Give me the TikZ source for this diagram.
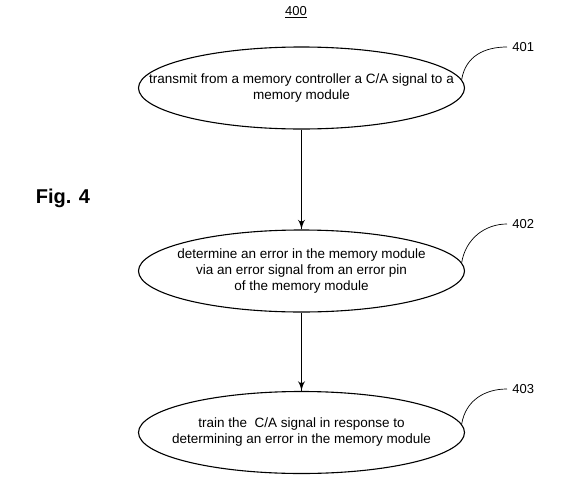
\documentclass[tikz,border=0pt]{standalone}
\usepackage{fontspec}
\setmainfont{Liberation Sans}
\usetikzlibrary{arrows}
\usetikzlibrary{decorations.markings}
\usetikzlibrary{shapes.geometric}
\tikzset{->/.style = {decoration={markings,
                                  mark=at position 1 with {\arrow[scale=2]{latex'}}},
                      postaction={decorate}}}
\tikzset{stepnode/.style = {ellipse, draw, line width=1.1pt,
                            minimum width=326pt, minimum height=82pt,
                            inner xsep=-40pt, inner ysep=0pt,
                            align=center, font=\fontsize{13.5}{16}\selectfont}}
\tikzset{refnum/.style = {anchor=west, inner xsep=5pt, font=\fontsize{13}{15}\selectfont}}

\begin{document}
\begin{tikzpicture}[x=1pt, y=-1pt, line width=0.7pt]
    \useasboundingbox (0, 0) rectangle (576, 482);
    \node [font=\fontsize{13}{15}\selectfont] (title) at (296, 12) {\underline{400}};
    \node [font=\fontsize{20}{24}\selectfont\bfseries] (fig) at (63, 198) {Fig. 4};

    \node [stepnode] (s401) at (301.5, 88) {transmit from a memory controller a C/A signal to a\\memory module};
    \node [stepnode] (s402) at (301.5, 271) {determine an error in the memory module\\via an error signal from an error pin\\of the memory module};
    \node [stepnode] (s403) at (301.5, 432.5) {train the \ C/A signal in response to\\determining an error in the memory module};

    \node [refnum] (n401) at (507, 47) {401};
    \node [refnum] (n402) at (507, 224) {402};
    \node [refnum] (n403) at (507, 389) {403};

    \draw [->] (s401) -- (s402);
    \draw [->] (s402) -- (s403);

    \draw (s401.3) .. controls +(4, -24) and +(-22, 0) .. (n401.west); % leader lines
    \draw (s402.3) .. controls +(4, -24) and +(-22, 0) .. (n402.west);
    \draw (s403.3) .. controls +(4, -24) and +(-22, 0) .. (n403.west);
\end{tikzpicture}
\end{document}
